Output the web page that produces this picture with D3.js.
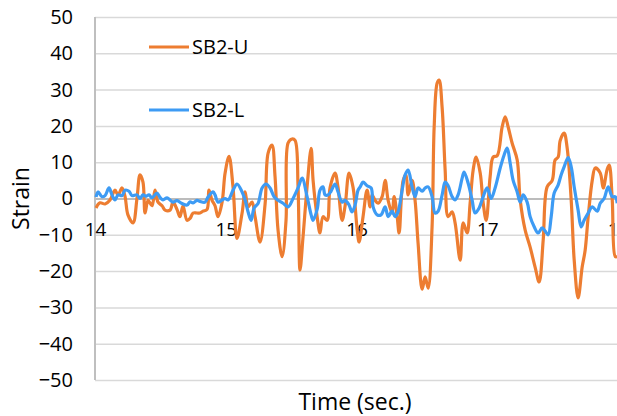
<!DOCTYPE html>
<html lang="en">
    <head>
        <meta charset="utf-8">
        <title>Strain vs Time</title>
        <script type="text/javascript" src="https://d3js.org/d3.v7.min.js"></script>
        <style type="text/css">
            body { margin: 0; background: #fff; }
            text { font-family: "Open Sans", sans-serif; fill: #000; }
        </style>
    </head>
    <body>
        <script type="text/javascript">

        //Data
        const seriesNames = ["SB2-U", "SB2-L"];
        const xTicks = [14, 15, 16, 17, 18];
        const yTicks = [-50, -40, -30, -20, -10, 0, 10, 20, 30, 40, 50];

        const timeU = [14.008, 14.038, 14.077, 14.115, 14.153, 14.176, 14.207, 14.230, 14.252, 14.291,
            14.321, 14.344, 14.367, 14.383, 14.406, 14.436, 14.459, 14.482, 14.513, 14.536,
            14.574, 14.597, 14.627, 14.650, 14.673, 14.704, 14.727, 14.750, 14.780, 14.803,
            14.826, 14.857, 14.872, 14.895, 14.918, 14.941, 14.972, 14.995, 15.025, 15.056,
            15.086, 15.125, 15.148, 15.171, 15.201, 15.224, 15.262, 15.301, 15.324, 15.354,
            15.377, 15.400, 15.431, 15.461, 15.477, 15.507, 15.530, 15.553, 15.568, 15.591,
            15.622, 15.653, 15.668, 15.699, 15.721, 15.744, 15.775, 15.798, 15.836, 15.859,
            15.890, 15.913, 15.943, 15.974, 16.005, 16.020, 16.050, 16.081, 16.104, 16.119,
            16.142, 16.165, 16.196, 16.219, 16.242, 16.272, 16.288, 16.311, 16.326, 16.357,
            16.379, 16.395, 16.425, 16.448, 16.471, 16.502, 16.525, 16.548, 16.578, 16.594,
            16.617, 16.632, 16.655, 16.678, 16.701, 16.731, 16.754, 16.793, 16.816, 16.846,
            16.869, 16.892, 16.915, 16.946, 16.969, 16.992, 17.022, 17.045, 17.076, 17.114,
            17.137, 17.160, 17.190, 17.229, 17.252, 17.290, 17.328, 17.366, 17.397, 17.428,
            17.458, 17.497, 17.519, 17.542, 17.558, 17.588, 17.611, 17.642, 17.665, 17.695,
            17.726, 17.749, 17.772, 17.803, 17.826, 17.864, 17.887, 17.917, 17.933, 17.956,
            17.979, 17.994];
        const strainU = [-2.6, -1.2, -1.5, -0.4, 2.3, 1, 2.9, 0.5, -4.5, -6.7,
            0, 6.5, 4.5, -4, -0.5, -2, 2.3, -1, -2, -3.2,
            -3.2, -1, -3, -5, -2, -6, -5.5, -4, -4, -4,
            -3.5, -3, 2.3, -0.5, -2, -5, -1, 7, 11.6, 3,
            -11, -4, 1.8, -2.3, -1, -5, -12, -1.5, 12.5, 14.7,
            6, -8.7, -16, -6, 15.3, 16.4, 16, 3.2, -19.7, -10.6,
            3.2, 13.8, 5, -5, -9.5, -5, -6, 3, 7, 3,
            -6, -2, 7, 3, -8.5, -12, -5, 2.3, -2.3, 1,
            -0.5, -1.3, 0.5, 5, -0.5, -4, 0.5, -5, -9.5, 5,
            6.5, 1, 5, -0.5, -12.3, -25, -21.6, -24.7, -7.8, 19.7,
            31.8, 32.6, 25, 7.8, -5, -3.7, -6.7, -17, -6.7, -9.5,
            -1.3, 7.8, 11.4, 7, -1.3, -6, 6, 11.4, 11.8, 19.7,
            22.5, 19.7, 15.3, 10.6, -0.4, -8.7, -13.4, -18.9, -23, -11.4,
            3.2, 5, 10.6, 11.4, 16, 18, 14, -0.4, -17, -27.4,
            -18.9, -14.2, -5, 5, 8.4, 7, 2.9, 8, 9.2, -0.4,
            -16, -16];

        const timeL = [14.008, 14.023, 14.054, 14.077, 14.107, 14.130, 14.153, 14.176, 14.207, 14.230,
            14.260, 14.283, 14.321, 14.344, 14.367, 14.390, 14.413, 14.436, 14.474, 14.497,
            14.520, 14.551, 14.574, 14.597, 14.627, 14.666, 14.704, 14.727, 14.750, 14.780,
            14.803, 14.842, 14.865, 14.903, 14.918, 14.941, 14.972, 14.995, 15.018, 15.056,
            15.086, 15.125, 15.148, 15.171, 15.194, 15.217, 15.247, 15.278, 15.308, 15.339,
            15.370, 15.400, 15.438, 15.477, 15.515, 15.553, 15.584, 15.622, 15.653, 15.668,
            15.699, 15.721, 15.744, 15.760, 15.783, 15.805, 15.836, 15.859, 15.890, 15.913,
            15.943, 15.966, 15.989, 16.012, 16.028, 16.050, 16.081, 16.112, 16.127, 16.158,
            16.188, 16.219, 16.242, 16.272, 16.295, 16.318, 16.349, 16.372, 16.395, 16.425,
            16.448, 16.471, 16.502, 16.525, 16.548, 16.578, 16.601, 16.624, 16.655, 16.678,
            16.701, 16.731, 16.754, 16.777, 16.808, 16.823, 16.854, 16.884, 16.907, 16.938,
            16.969, 16.999, 17.030, 17.060, 17.099, 17.129, 17.152, 17.175, 17.198, 17.229,
            17.252, 17.275, 17.305, 17.328, 17.359, 17.389, 17.420, 17.443, 17.466, 17.489,
            17.512, 17.542, 17.565, 17.588, 17.619, 17.642, 17.665, 17.695, 17.718, 17.741,
            17.772, 17.803, 17.841, 17.864, 17.894, 17.925, 17.956, 17.979, 17.994];
        const strainL = [0.4, 1.8, 0.5, 0.8, 2.9, 1, -0.4, 1, 0.8, 2.3,
            2, 0.8, 1, 0, 1, 0.6, 1, 0.2, 1.5, 0.3,
            -0.4, 0.2, -0.4, -1, -0.6, -1.4, -1.8, -0.9, -1.2, -0.5,
            -0.8, -1, 0.4, 1.8, 1, -1, -0.4, 0, -0.4, 2.3,
            4, 1.8, -0.4, -3.7, -6, -2.6, -1.4, 2.9, 4, 2.9,
            0.5, -0.5, -1.3, -2.3, 0, 2.9, 5.6, 0.5, -4.5, -6,
            -3, 2.3, 3.2, 1, 1, 2, 4, 1.8, -1, -0.5,
            -1.8, -3.7, -1.8, 2.3, 3.2, 4.5, 3.5, 2.9, -2.3, -4.5,
            -4.5, -2.3, -5, -3.5, -5, -3.7, 2.3, 6.5, 7.8, 3.2,
            0.5, 2.9, 2, 2.9, 3.2, 0.5, -4, -3.5, 1, 4.5,
            3.5, 0.5, -0.4, 1, 5.6, 7.3, 4.2, -0.4, -4, -2.6,
            0.5, 2.9, 0, 2.9, 8.4, 12, 13.9, 9.8, 5, 1.8,
            -1, 1, -1, -5, -7.8, -9.5, -8.1, -9, -10, -5,
            1.5, 3.7, 6.5, 8.7, 11.3, 8.7, 3.2, -3.2, -7.8, -6,
            -4, -2.3, -3.5, -1.3, 0, 3.2, 0.5, 0.5, -1.3];

        const colors = ["#ed7d31", "#3d9bf4"];

        //Sizes
        const width = 617;
        const height = 416;
        const plotLeft = 95, plotRight = 618, plotTop = 17, plotBottom = 380;

        const series = [
            timeU.map((t, i) => ({t: t, v: strainU[i]})),
            timeL.map((t, i) => ({t: t, v: strainL[i]}))
        ];

        //Scales
        const xScale = d3.scaleLinear().domain([14, 18]).range([plotLeft, plotRight]);
        const yScale = d3.scaleLinear().domain([-50, 50]).range([plotBottom, plotTop]);

        const svg = d3.select("body")
                    .append("svg")
                    .attr("width", width)
                    .attr("height", height);

        //Y axis with grid lines
        const leftAxis = d3.axisLeft(yScale)
                           .tickValues(yTicks)
                           .tickSize(-(width - plotLeft))
                           .tickPadding(22);

        const yG = svg.append("g")
            .attr("transform", "translate(" + plotLeft + ",0)")
            .call(leftAxis);
        yG.select(".domain").remove();
        yG.selectAll(".tick line")
            .attr("stroke", d => d === 0 ? "#bcbcbc" : "#d9d9d9")
            .attr("stroke-width", d => d === 0 ? 2 : 1.5);
        yG.selectAll(".tick text")
            .attr("font-size", 20)
            .attr("font-family", "Open Sans");

        //left axis line
        svg.append("line")
            .attr("x1", plotLeft).attr("x2", plotLeft)
            .attr("y1", plotTop).attr("y2", plotBottom)
            .attr("stroke", "#bfbfbf")
            .attr("stroke-width", 2);

        //X axis labels next to zero line
        const bottomAxis = d3.axisBottom(xScale)
                             .tickValues(xTicks)
                             .tickSize(0)
                             .tickPadding(24)
                             .tickFormat(d3.format("d"));
        const xG = svg.append("g")
            .attr("transform", "translate(0," + yScale(0) + ")")
            .call(bottomAxis);
        xG.select(".domain").remove();
        xG.selectAll(".tick text")
            .attr("font-size", 19)
            .attr("font-family", "Open Sans");

        //Lines
        const line = d3.line()
            .x(d => xScale(d.t))
            .y(d => yScale(d.v))
            .curve(d3.curveCatmullRom.alpha(0.5));

        svg.selectAll(".series")
            .data(series)
            .enter()
            .append("path")
            .attr("class", "series")
            .attr("d", line)
            .attr("fill", "none")
            .attr("stroke", (d, i) => colors[i])
            .attr("stroke-width", 3.2)
            .attr("stroke-linejoin", "round");

        //Legend
        const legendY = [47, 110];
        seriesNames.forEach((name, i) => {
            svg.append("line")
                .attr("x1", 149).attr("x2", 189)
                .attr("y1", legendY[i]).attr("y2", legendY[i])
                .attr("stroke", colors[i])
                .attr("stroke-width", 3);
            svg.append("text")
                .attr("x", 192)
                .attr("y", legendY[i] + 7)
                .attr("font-size", 20)
                .text(name);
        });

        //Axis titles
        svg.append("text")
            .attr("transform", "translate(29," + yScale(0) + ") rotate(-90)")
            .attr("text-anchor", "middle")
            .attr("font-size", 23)
            .text("Strain");

        svg.append("text")
            .attr("x", 355)
            .attr("y", 410)
            .attr("text-anchor", "middle")
            .attr("font-size", 23)
            .text("Time (sec.)");

        </script>
    </body>
</html>
